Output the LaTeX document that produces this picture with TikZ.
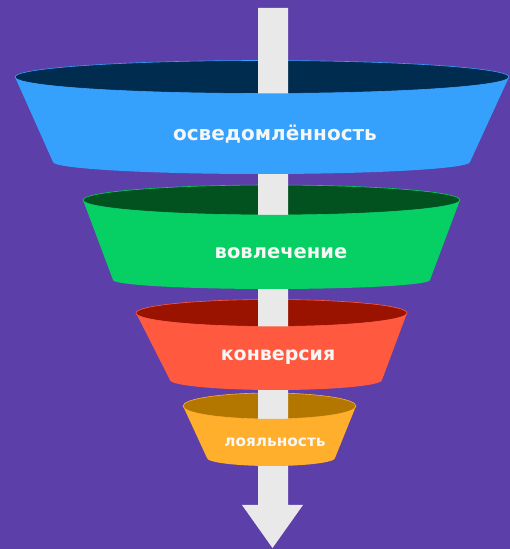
\documentclass[tikz,border=0pt]{standalone}
\usepackage{fontspec}
\setmainfont{DejaVu Sans}
\definecolor{bg}{HTML}{5C3FA8}
\definecolor{shaft}{HTML}{E9E9E9}
\definecolor{blueF}{HTML}{35A1FD}
\definecolor{blueD}{HTML}{002C4F}
\definecolor{greenF}{HTML}{06CF63}
\definecolor{greenD}{HTML}{02521F}
\definecolor{redF}{HTML}{FF5A40}
\definecolor{redD}{HTML}{991300}
\definecolor{yelF}{HTML}{FFAF2C}
\definecolor{yelD}{HTML}{B37700}
\definecolor{txt}{HTML}{F6F6F6}
\tikzset{
  lbl/.style={text=txt, font=\bfseries, inner sep=0pt, anchor=center},
}
\begin{document}
\begin{tikzpicture}[x=1pt,y=1pt]
\useasboundingbox (0,0) rectangle (510,549);
\fill[bg] (0,0) rectangle (510,549);
% dark openings
\fill[blueD, draw=blueF, line width=0.6pt] (262,472) ellipse [x radius=247pt, y radius=16.5pt];
\fill[greenD, draw=greenF, line width=0.6pt] (271.5,349) ellipse [x radius=188.5pt, y radius=15pt];
\fill[redD, draw=redF, line width=0.6pt] (271.5,236) ellipse [x radius=135.5pt, y radius=13.5pt];
\fill[yelD, draw=yelF, line width=0.6pt] (269.5,143) ellipse [x radius=86.5pt, y radius=13pt];
% arrow
\fill[shaft] (258,541) -- (288,541) -- (288,44) -- (303,44) -- (272.5,1) -- (242,44) -- (258,44) -- cycle;
% funnel bodies
\fill[blueF] (15,472) -- (53,387) arc[start angle=180, end angle=360, x radius=208.5pt, y radius=12pt]
  -- (509,472) arc[start angle=0, end angle=-180, x radius=247pt, y radius=16.5pt] -- cycle;
\fill[greenF] (83,349) -- (113,269) arc[start angle=180, end angle=360, x radius=158.5pt, y radius=9pt]
  -- (460,349) arc[start angle=0, end angle=-180, x radius=188.5pt, y radius=15pt] -- cycle;
\fill[redF] (136,236) -- (170,169) arc[start angle=180, end angle=360, x radius=106pt, y radius=10pt]
  -- (407,236) arc[start angle=0, end angle=-180, x radius=135.5pt, y radius=13.5pt] -- cycle;
\fill[yelF] (183,143) -- (207,91) arc[start angle=180, end angle=360, x radius=64pt, y radius=8pt]
  -- (356,143) arc[start angle=0, end angle=-180, x radius=86.5pt, y radius=13pt] -- cycle;
% labels
\node[lbl, font=\bfseries\fontsize{20}{24}\selectfont] (t1) at (275,415) {осведомлённость};
\node[lbl, font=\bfseries\fontsize{19.5}{23}\selectfont] (t2) at (281,296) {вовлечение};
\node[lbl, font=\bfseries\fontsize{19}{23}\selectfont] (t3) at (278,192) {конверсия};
\node[lbl, font=\bfseries\fontsize{15.3}{18}\selectfont] (t4) at (275,106.5) {лояльность};
\end{tikzpicture}
\end{document}
